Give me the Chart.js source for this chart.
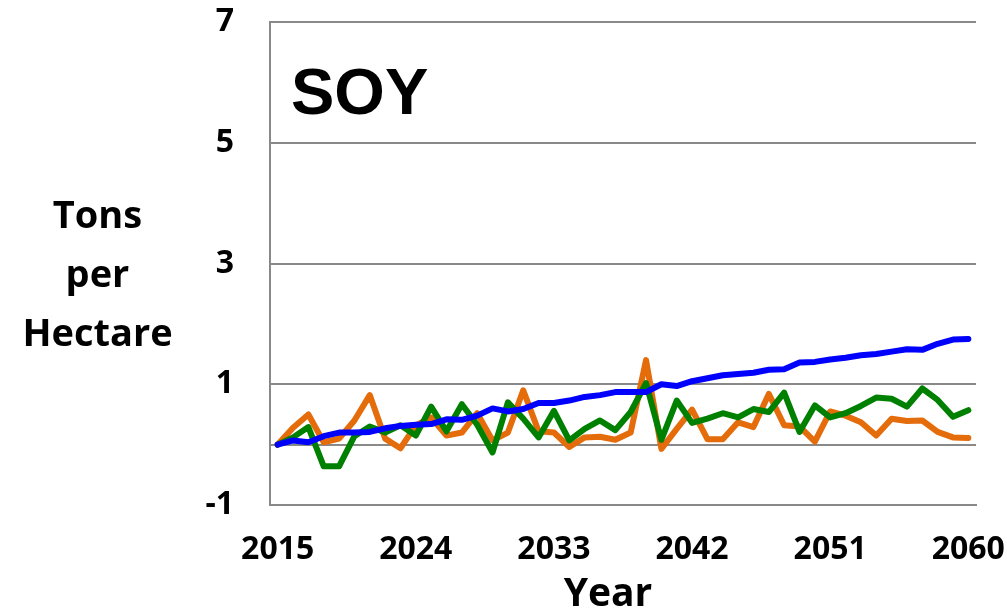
<!DOCTYPE html>
<html>
<head>
<meta charset="utf-8">
<script src="https://cdn.jsdelivr.net/npm/chart.js@4.4.1/dist/chart.umd.min.js"></script>
<style>
    html, body { margin: 0; padding: 0; background: #fff; }
    #wrap { position: relative; width: 1007px; height: 612px; overflow: hidden; }
    #chart { position: absolute; left: 0; top: 0; }
    .crop-name {
        position: absolute; left: 291px; top: 52px;
        font-family: 'Liberation Sans', Arial, sans-serif; font-weight: bold;
        font-size: 65px; line-height: 80px; color: #000;
    }
    .y-title {
        position: absolute; left: 0; top: 184px; width: 195px;
        text-align: center; font-family: 'Open Sans', sans-serif; font-weight: bold;
        font-size: 38px; line-height: 59px; color: #000;
    }
    .x-title {
        position: absolute; left: 508px; top: 571px; width: 200px;
        text-align: center; font-family: 'Open Sans', sans-serif; font-weight: bold;
        font-size: 39px; line-height: 40px; color: #000;
    }
</style>
</head>
<body>
<div id="wrap">
    <canvas id="chart" width="1007" height="612"></canvas>
    <div class="crop-name">SOY</div>
    <div class="y-title">Tons<br>per<br>Hectare</div>
    <div class="x-title">Year</div>
</div>
<script>
// Soy yield series, tons per hectare, 2015-2060
const years = [
    '2015', '2016', '2017', '2018', '2019', '2020', '2021', '2022', '2023', '2024',
    '2025', '2026', '2027', '2028', '2029', '2030', '2031', '2032', '2033', '2034',
    '2035', '2036', '2037', '2038', '2039', '2040', '2041', '2042', '2043', '2044',
    '2045', '2046', '2047', '2048', '2049', '2050', '2051', '2052', '2053', '2054',
    '2055', '2056', '2057', '2058', '2059', '2060'
];
const shownYears = ['2015', '2024', '2033', '2042', '2051', '2060'];

const blueValues = [
    0, 0.07, 0.04, 0.14, 0.2, 0.2, 0.21, 0.27, 0.31, 0.33,
    0.34, 0.42, 0.41, 0.48, 0.6, 0.55, 0.59, 0.69, 0.69, 0.73,
    0.79, 0.82, 0.87, 0.87, 0.87, 1.0, 0.97, 1.05, 1.1, 1.15,
    1.17, 1.19, 1.24, 1.25, 1.36, 1.37, 1.41, 1.44, 1.48, 1.5,
    1.54, 1.58, 1.57, 1.67, 1.74, 1.75
];
const greenValues = [
    0, 0.12, 0.29, -0.36, -0.36, 0.14, 0.3, 0.2, 0.32, 0.15,
    0.63, 0.22, 0.67, 0.33, -0.13, 0.7, 0.43, 0.12, 0.56, 0.07,
    0.26, 0.4, 0.24, 0.54, 1.02, 0.08, 0.73, 0.36, 0.43, 0.52,
    0.45, 0.59, 0.54, 0.86, 0.21, 0.65, 0.45, 0.52, 0.64, 0.78,
    0.76, 0.63, 0.93, 0.74, 0.46, 0.57
];
const orangeValues = [
    0, 0.28, 0.5, 0.04, 0.1, 0.4, 0.82, 0.1, -0.06, 0.32,
    0.45, 0.15, 0.2, 0.52, 0.07, 0.2, 0.9, 0.22, 0.2, -0.04,
    0.12, 0.13, 0.08, 0.2, 1.4, -0.07, 0.26, 0.58, 0.09, 0.09,
    0.37, 0.29, 0.84, 0.32, 0.3, 0.05, 0.55, 0.48, 0.37, 0.15,
    0.43, 0.39, 0.4, 0.21, 0.12, 0.11
];

const gridGray = '#898989';
const tickFont = { family: 'Open Sans', size: 32, weight: 'bold' };

Chart.defaults.color = '#000';

function lineSet(label, data, color) {
    return {
        label: label,
        data: data,
        borderColor: color,
        backgroundColor: color,
        borderWidth: 6,
        tension: 0,
        pointRadius: 0,
        borderJoinStyle: 'round',
        borderCapStyle: 'round'
    };
}

new Chart(document.getElementById('chart'), {
    type: 'line',
    data: {
        labels: years,
        datasets: [
            lineSet('Blue', blueValues, '#0000ff'),
            lineSet('Green', greenValues, '#008000'),
            lineSet('Orange', orangeValues, '#e46c0a')
        ]
    },
    options: {
        responsive: false,
        animation: false,
        layout: { padding: { top: 22, right: 31, bottom: 0, left: 0 } },
        plugins: { legend: { display: false }, tooltip: { enabled: false } },
        scales: {
            x: {
                offset: true,
                grid: { display: false, drawTicks: false },
                border: { display: true, color: gridGray, width: 2 },
                ticks: {
                    autoSkip: false,
                    maxRotation: 0,
                    padding: 26,
                    font: tickFont,
                    callback: function (v) {
                        const y = this.getLabelForValue(v);
                        return shownYears.includes(y) ? y : '';
                    }
                },
                afterFit: (scale) => {
                    scale.height = 107;
                    scale.paddingLeft = 0;
                    scale.paddingRight = 0;
                }
            },
            y: {
                min: -1,
                max: 7,
                grid: {
                    drawTicks: false,
                    lineWidth: 2,
                    color: (ctx) => (ctx.tick && ctx.tick.value % 2 !== 0 || ctx.tick && ctx.tick.value === 0) ? gridGray : 'rgba(0,0,0,0)'
                },
                border: { display: true, color: gridGray, width: 2 },
                ticks: {
                    stepSize: 1,
                    padding: 36,
                    font: tickFont,
                    callback: (v) => (v % 2 !== 0 ? v : '')
                },
                afterFit: (scale) => {
                    scale.width = 270;
                    scale.paddingTop = 0;
                    scale.paddingBottom = 0;
                }
            }
        }
    }
});
</script>
</body>
</html>
